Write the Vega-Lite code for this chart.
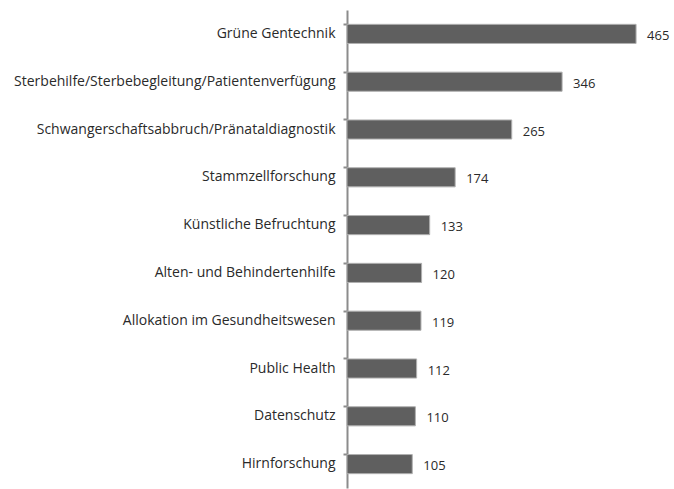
{
  "$schema": "https://vega.github.io/schema/vega-lite/v6.json",
  "width": 327,
  "height": 478,
  "autosize": {"type": "none"},
  "padding": {"left": 347, "top": 10, "right": 0, "bottom": 1},
  "background": "white",
  "config": {"view": {"stroke": null}, "font": "Open Sans"},
  "data": {"values": [
    {"thema": "Grüne Gentechnik", "anzahl": 465},
    {"thema": "Sterbehilfe/Sterbebegleitung/Patientenverfügung", "anzahl": 346},
    {"thema": "Schwangerschaftsabbruch/Pränataldiagnostik", "anzahl": 265},
    {"thema": "Stammzellforschung", "anzahl": 174},
    {"thema": "Künstliche Befruchtung", "anzahl": 133},
    {"thema": "Alten- und Behindertenhilfe", "anzahl": 120},
    {"thema": "Allokation im Gesundheitswesen", "anzahl": 119},
    {"thema": "Public Health", "anzahl": 112},
    {"thema": "Datenschutz", "anzahl": 110},
    {"thema": "Hirnforschung", "anzahl": 105}
  ]},
  "encoding": {
    "y": {
      "field": "thema", "type": "nominal", "sort": null,
      "scale": {"paddingInner": 0.6, "paddingOuter": 0.3},
      "axis": {
        "title": null, "bandPosition": 0,
        "domainColor": "#8c8c8c", "domainWidth": 2,
        "tickColor": "#8c8c8c", "tickSize": 4, "tickWidth": 2,
        "labelFontSize": 14, "labelColor": "#2a2a2a", "labelPadding": 8,
        "labelLimit": 400, "labelFont": "Open Sans", "labelFontWeight": "normal"
      }
    },
    "x": {
      "field": "anzahl", "type": "quantitative",
      "scale": {"domain": [0, 526]},
      "axis": null
    }
  },
  "layer": [
    {"mark": {"type": "bar", "color": "#5f5f5f", "stroke": "#b0b0b0", "strokeWidth": 1}},
    {"mark": {"type": "text", "align": "left", "baseline": "middle", "dx": 11, "dy": 2, "fontSize": 13, "color": "#2a2a2a", "font": "Open Sans"},
     "encoding": {"text": {"field": "anzahl", "type": "quantitative"}}}
  ]
}
